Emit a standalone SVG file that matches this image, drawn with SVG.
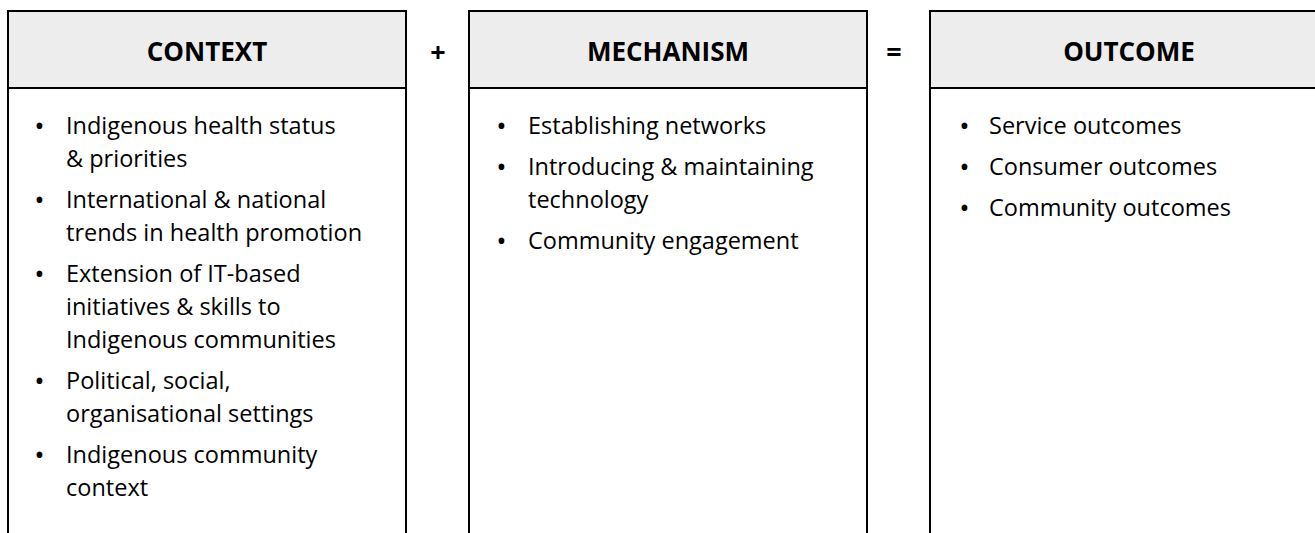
<svg xmlns="http://www.w3.org/2000/svg" width="1315" height="533" viewBox="0 0 1315 533">
  <style>
    .frame { fill: #ffffff; stroke: #000000; stroke-width: 2; }
    .band { fill: #ededed; stroke: #000000; stroke-width: 2; }
    .title { font-family: "Open Sans", "Liberation Sans", sans-serif; font-weight: bold; font-size: 26px; fill: #000000; text-anchor: middle; }
    .item { font-family: "Open Sans", "Liberation Sans", sans-serif; font-size: 23.5px; fill: #000000; }
    .dot { font-weight: 600; }
    .op { font-family: "Open Sans", "Liberation Sans", sans-serif; font-weight: bold; font-size: 27px; fill: #000000; text-anchor: middle; }
  </style>

  <rect x="0" y="0" width="1315" height="533" fill="#ffffff"/>

  <!-- Context column -->
  <g id="context">
    <rect class="frame" x="8" y="11" width="398" height="540"/>
    <rect class="band" x="8" y="11" width="398" height="77"/>
    <text class="title" x="207" y="61">CONTEXT</text>
    <g class="item">
      <text class="dot" x="35" y="134">•</text>
      <text x="66" y="134">Indigenous health status</text>
      <text x="66" y="167">&amp; priorities</text>
      <text class="dot" x="35" y="208">•</text>
      <text x="66" y="208">International &amp; national</text>
      <text x="66" y="241">trends in health promotion</text>
      <text class="dot" x="35" y="282">•</text>
      <text x="66" y="282">Extension of IT-based</text>
      <text x="66" y="315">initiatives &amp; skills to</text>
      <text x="66" y="348">Indigenous communities</text>
      <text class="dot" x="35" y="389">•</text>
      <text x="66" y="389">Political, social,</text>
      <text x="66" y="422">organisational settings</text>
      <text class="dot" x="35" y="463">•</text>
      <text x="66" y="463">Indigenous community</text>
      <text x="66" y="496">context</text>
    </g>
  </g>

  <!-- Mechanism column -->
  <g id="mechanism">
    <rect class="frame" x="469" y="11" width="398" height="540"/>
    <rect class="band" x="469" y="11" width="398" height="77"/>
    <text class="title" x="668" y="61">MECHANISM</text>
    <g class="item">
      <text class="dot" x="497" y="134">•</text>
      <text x="528" y="134">Establishing networks</text>
      <text class="dot" x="497" y="175">•</text>
      <text x="528" y="175">Introducing &amp; maintaining</text>
      <text x="528" y="208">technology</text>
      <text class="dot" x="497" y="249">•</text>
      <text x="528" y="249">Community engagement</text>
    </g>
  </g>

  <!-- Outcome column -->
  <g id="outcome">
    <rect class="frame" x="930" y="11" width="398" height="540"/>
    <rect class="band" x="930" y="11" width="398" height="77"/>
    <text class="title" x="1129" y="61">OUTCOME</text>
    <g class="item">
      <text class="dot" x="960" y="134">•</text>
      <text x="989" y="134">Service outcomes</text>
      <text class="dot" x="960" y="175">•</text>
      <text x="989" y="175">Consumer outcomes</text>
      <text class="dot" x="960" y="216">•</text>
      <text x="989" y="216">Community outcomes</text>
    </g>
  </g>

  <!-- Operators joining the columns -->
  <g id="operators">
    <text class="op" x="438" y="62">+</text>
    <text class="op" x="894" y="62">=</text>
  </g>
</svg>
